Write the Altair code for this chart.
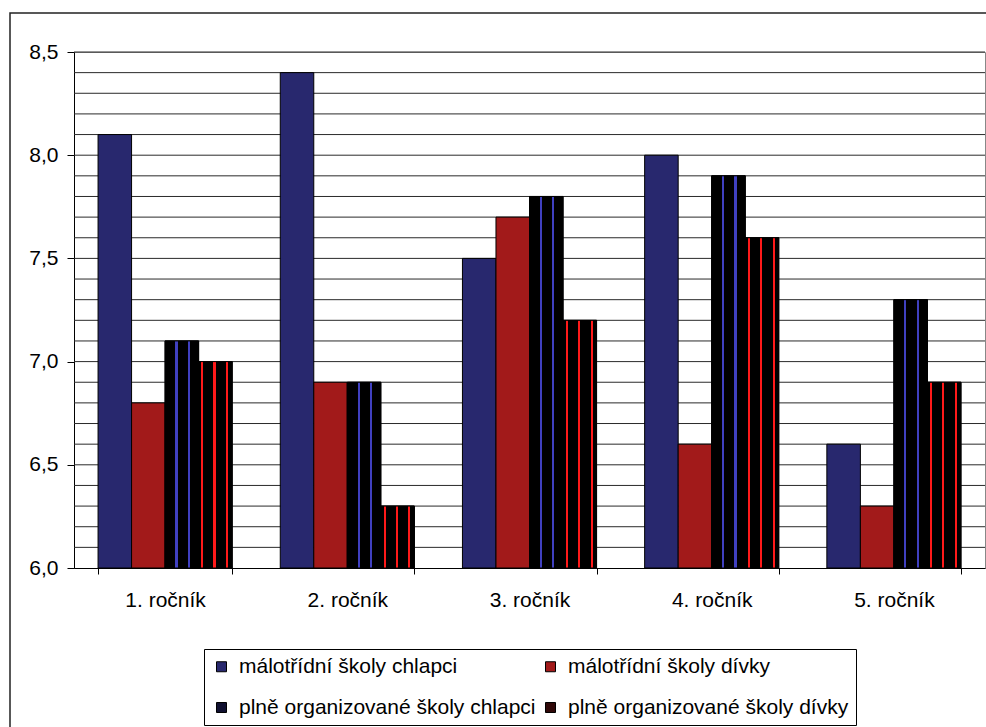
import altair as alt
import pandas as pd

categories = ["1. ročník", "2. ročník", "3. ročník", "4. ročník", "5. ročník"]
series = ["málotřídní školy chlapci", "málotřídní školy dívky",
          "plně organizované školy chlapci", "plně organizované školy dívky"]
mal_chlapci = [8.1, 8.4, 7.5, 8.0, 6.6]
mal_divky = [6.8, 6.9, 7.7, 6.6, 6.3]
pln_chlapci = [7.1, 6.9, 7.8, 7.9, 7.3]
pln_divky = [7.0, 6.3, 7.2, 7.6, 6.9]
y_labels = [6.0, 6.5, 7.0, 7.5, 8.0, 8.5]
gridlines = [6.1, 6.2, 6.3, 6.4, 6.5, 6.6, 6.7, 6.8, 6.9, 7.0, 7.1, 7.2, 7.3, 7.4,
             7.5, 7.6, 7.7, 7.8, 7.9, 8.0, 8.1, 8.2, 8.3, 8.4, 8.5]
colors = {series[0]: "#28286e", series[1]: "#a21a1a", series[2]: "#101030", series[3]: "#300808"}
# legend is filled column by column, so order the colour domain to read row by row
legend_order = [series[0], series[2], series[1], series[3]]

rows = []
for s, vals in zip(series, [mal_chlapci, mal_divky, pln_chlapci, pln_divky]):
    for c, v in zip(categories, vals):
        rows.append({"rocnik": c, "serie": s, "hodnota": v, "base": 6.0})
df = pd.DataFrame(rows)
grid_df = pd.DataFrame({"hodnota": gridlines})

W, H = 911, 516
FONT = "Liberation Sans"
FS = 21

x_enc = alt.X("rocnik:N", sort=categories,
              scale=alt.Scale(paddingInner=0.264, paddingOuter=0.132),
              axis=alt.Axis(title=None, labelFontSize=FS, labelFont=FONT, labelColor="black",
                            labelAngle=0, labelPadding=15, tickBand="extent", tickSize=6,
                            tickColor="black", domainColor="black", grid=False))
xo_enc = alt.XOffset("serie:N", sort=series, scale=alt.Scale(domain=series, paddingInner=0, paddingOuter=0))
y_scale = alt.Scale(domain=[6.0, 8.5], nice=False, zero=False)
y_axis = alt.Axis(title=None, values=y_labels, grid=False, labelFontSize=FS, labelFont=FONT,
                  labelColor="black", tickSize=7, labelPadding=9, tickColor="black",
                  domainColor="black",
                  labelExpr="replace(format(datum.value, '.1f'), '.', ',')")
y_enc = alt.Y("hodnota:Q", scale=y_scale, axis=y_axis)

border = alt.Chart(alt.Data(values=[{"a": 1}])).mark_rect(
    fillOpacity=0, stroke="#222222", strokeWidth=1.5
).encode(x=alt.value(-64), y=alt.value(-39), x2=alt.value(W + 30), y2=alt.value(H + 200))

grid = alt.Chart(grid_df).mark_rule(color="#2a2a2a", strokeWidth=1).encode(y=y_enc)

bars = alt.Chart(df).mark_bar(stroke="black", strokeWidth=1).encode(
    x=x_enc,
    xOffset=xo_enc,
    y=y_enc,
    y2="base:Q",
    color=alt.Color("serie:N", scale=alt.Scale(domain=legend_order,
                                               range=[colors[s] for s in legend_order]),
                    legend=alt.Legend(title=None, orient="none", legendX=130, legendY=597,
                                      columns=2, direction="vertical",
                                      symbolType="square", symbolSize=100,
                                      symbolStrokeColor="black", symbolStrokeWidth=1,
                                      symbolOpacity=1,
                                      labelFontSize=FS, labelFont=FONT, labelColor="black",
                                      labelLimit=500, labelOffset=7, columnPadding=4,
                                      rowPadding=19, padding=7, strokeColor="black",
                                      fillColor="white")),
)


def stripes(line_color, positions, w=0.065):
    stops = [alt.GradientStop(offset=0, color="black")]
    for p in positions:
        stops += [alt.GradientStop(offset=max(p - 0.0001, 0), color="black"),
                  alt.GradientStop(offset=p, color=line_color),
                  alt.GradientStop(offset=min(p + w, 1), color=line_color),
                  alt.GradientStop(offset=min(p + w + 0.0001, 1), color="black")]
    stops += [alt.GradientStop(offset=1, color="black")]
    return alt.LinearGradient(gradient="linear", stops=stops, x1=0, x2=1, y1=0, y2=0)


blue_grid = alt.Chart(df).transform_filter(
    alt.datum.serie == series[2]
).mark_bar(stroke="black", strokeWidth=1, fill=stripes("#4040c0", [0.31, 0.68])).encode(
    x=x_enc, xOffset=xo_enc, y=y_enc, y2="base:Q"
)
red_grid = alt.Chart(df).transform_filter(
    alt.datum.serie == series[3]
).mark_bar(stroke="black", strokeWidth=1, fill=stripes("#ff1a1a", [0.08, 0.44, 0.82])).encode(
    x=x_enc, xOffset=xo_enc, y=y_enc, y2="base:Q"
)

chart = alt.layer(border, grid, bars, blue_grid, red_grid).properties(
    width=W, height=H,
    autosize=alt.AutoSizeParams(type="none"),
    padding={"left": 74, "top": 52, "right": 1, "bottom": 159},
    background="white",
).configure_view(stroke="#888888", strokeWidth=1)

chart.save("out.html", embed_options={"renderer": "svg", "actions": False})
